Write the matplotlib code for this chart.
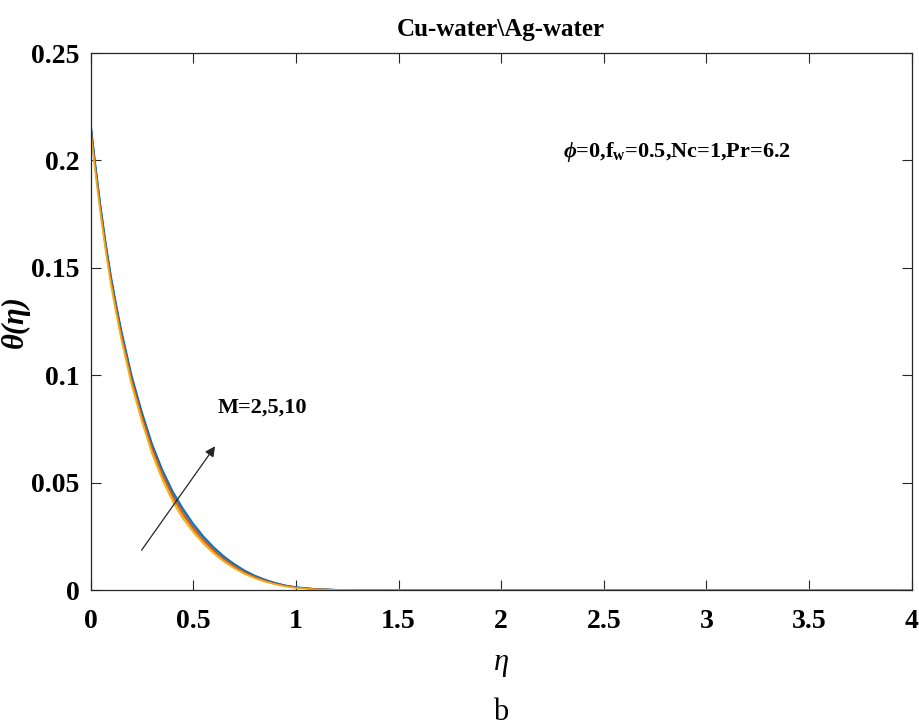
import matplotlib
matplotlib.use("Agg")
import matplotlib.pyplot as plt

plt.rcParams["font.family"] = ["Liberation Serif", "DejaVu Serif"]
plt.rcParams["mathtext.fontset"] = "custom"
plt.rcParams["mathtext.rm"] = "Liberation Serif:bold"
plt.rcParams["mathtext.it"] = "Liberation Serif:italic:bold"
plt.rcParams["mathtext.bf"] = "Liberation Serif:bold"

# eta grid and temperature profiles
eta = [0, 0.025, 0.05, 0.075, 0.1, 0.125, 0.15, 0.2, 0.25, 0.3, 0.35, 0.4,
       0.45, 0.5, 0.55, 0.6, 0.65, 0.7, 0.75, 0.8, 0.85, 0.9, 0.95, 1.0,
       1.1, 1.2, 1.3, 1.5, 2.0, 2.5, 3.0, 3.5, 4.0]

# Cu-water, M = 2, 5, 10
cu_m2 = [0.214, 0.193, 0.174, 0.157, 0.142, 0.129, 0.117, 0.096, 0.079,
         0.064, 0.052, 0.042, 0.034, 0.0275, 0.022, 0.0174, 0.0135, 0.0103,
         0.0077, 0.0056, 0.0040, 0.0027, 0.0017, 0.0010, 0.0003, 0.0001,
         0.00002, 0, 0, 0, 0, 0, 0]
cu_m5 = [0.216, 0.195, 0.176, 0.159, 0.144, 0.131, 0.119, 0.098, 0.081,
         0.066, 0.054, 0.044, 0.036, 0.029, 0.0235, 0.0186, 0.0145, 0.0112,
         0.0084, 0.0062, 0.0044, 0.0030, 0.0020, 0.0012, 0.0004, 0.00012,
         0.00003, 0, 0, 0, 0, 0, 0]
cu_m10 = [0.218, 0.197, 0.178, 0.161, 0.146, 0.133, 0.121, 0.100, 0.083,
          0.068, 0.056, 0.046, 0.038, 0.031, 0.025, 0.020, 0.0157, 0.0122,
          0.0092, 0.0068, 0.0049, 0.0034, 0.0022, 0.0014, 0.0005, 0.00015,
          0.00004, 0, 0, 0, 0, 0, 0]

# Ag-water, M = 2, 5, 10
ag_m2 = [0.213, 0.192, 0.173, 0.156, 0.141, 0.128, 0.116, 0.095, 0.078,
         0.063, 0.051, 0.041, 0.033, 0.0268, 0.0214, 0.0169, 0.0131, 0.0100,
         0.0074, 0.0054, 0.0038, 0.0026, 0.0016, 0.0009, 0.0003, 0.0001,
         0.00002, 0, 0, 0, 0, 0, 0]
ag_m5 = [0.215, 0.194, 0.175, 0.158, 0.143, 0.130, 0.118, 0.097, 0.080,
         0.065, 0.053, 0.043, 0.035, 0.0283, 0.0228, 0.0180, 0.0140, 0.0108,
         0.0081, 0.0059, 0.0042, 0.0029, 0.0019, 0.0011, 0.0004, 0.0001,
         0.00003, 0, 0, 0, 0, 0, 0]
ag_m10 = [0.217, 0.196, 0.177, 0.160, 0.145, 0.132, 0.120, 0.099, 0.082,
          0.067, 0.055, 0.045, 0.037, 0.030, 0.0243, 0.0193, 0.0151, 0.0117,
          0.0088, 0.0065, 0.0047, 0.0032, 0.0021, 0.0013, 0.0005, 0.00013,
          0.00003, 0, 0, 0, 0, 0, 0]

colors = ["#0072BD", "#D95319", "#EDB120"]
xticks = [0, 0.5, 1, 1.5, 2, 2.5, 3, 3.5, 4]
yticks = [0, 0.05, 0.1, 0.15, 0.2, 0.25]
xtick_labels = ["0", "0.5", "1", "1.5", "2", "2.5", "3", "3.5", "4"]
ytick_labels = ["0", "0.05", "0.1", "0.15", "0.2", "0.25"]

fig = plt.figure(figsize=(9.19, 7.27), dpi=100)
ax = fig.add_axes([0.0987, 0.1884, 0.8933, 0.7386])

for group in ((ag_m10, ag_m5, ag_m2), (cu_m10, cu_m5, cu_m2)):
    for ys, c in zip(group, colors):
        ax.plot(eta, ys, color=c, lw=1.0)

ax.set_xlim(0, 4)
ax.set_ylim(0, 0.25)
ax.set_xticks(xticks)
ax.set_xticklabels(xtick_labels)
ax.set_yticks(yticks)
ax.set_yticklabels(ytick_labels)
ax.tick_params(direction="in", top=True, right=True, length=7, width=0.8,
               colors="#262626", labelsize=20)
ax.tick_params(axis="x", pad=14)
ax.tick_params(axis="y", pad=8)
for lab in ax.get_xticklabels() + ax.get_yticklabels():
    lab.set_fontweight("bold")
    lab.set_color("black")
for sp in ax.spines.values():
    sp.set_color("#262626")
    sp.set_linewidth(0.9)

ax.set_title("Cu-water\\Ag-water", fontsize=18, fontweight="bold", pad=12)
ax.set_xlabel("η", fontsize=22, fontstyle="italic", labelpad=10)
ax.set_ylabel("θ(η)", fontsize=22, fontstyle="italic", fontweight="bold")
ax.yaxis.set_label_coords(-0.074, 0.5)

ax.annotate("", xy=(0.614, 0.068), xytext=(0.24, 0.0175),
            arrowprops=dict(arrowstyle="-|>", color="#262626", lw=0.9,
                            mutation_scale=15))
ax.text(0.62, 0.085, "M=2,5,10", fontsize=16, fontweight="bold",
        va="center", ha="left")
ax.text(2.3, 0.204, r"$\phi$=0,f$_{\rm w}$=0.5,Nc=1,Pr=6.2", fontsize=16,
        fontweight="bold", va="center", ha="left")

fig.text(0.545, 0.02, "b", fontsize=22, ha="center", va="center")

fig.savefig("out.png", dpi=100)
